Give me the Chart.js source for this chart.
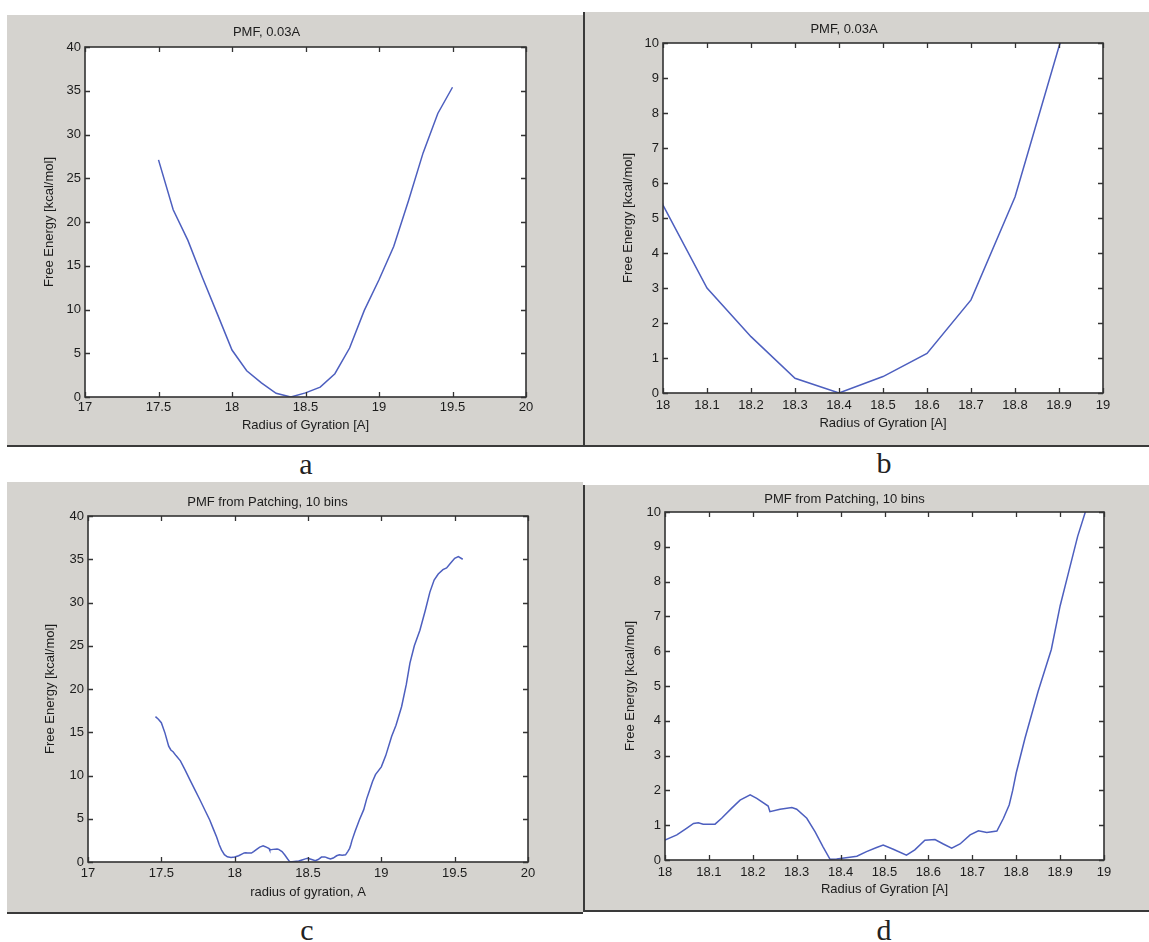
<!DOCTYPE html>
<html>
<head>
<meta charset="utf-8">
<script src="https://cdn.jsdelivr.net/npm/chart.js@4.4.0/dist/chart.umd.min.js"></script>
<style>
  body { margin: 0; background: #fff; width: 1149px; height: 942px; position: relative; overflow: hidden; }
  .panel { position: absolute; background: #d5d3cf; }
  .panel canvas { display: block; }
  .lbl { position: absolute; width: 100px; text-align: center; font-family: "Liberation Serif", "DejaVu Serif", serif;
         font-size: 30px; line-height: 30px; color: #222; }
</style>
</head>
<body>

<div class="panel" style="left:7px;top:15px;width:576px;height:430px;border-bottom:2px solid #3a3a3a">
  <canvas id="chartA" width="576" height="430"></canvas>
</div>
<div class="panel" style="left:583px;top:12px;width:566px;height:433px;border-left:2px solid #3a3a3a;border-bottom:2px solid #3a3a3a">
  <canvas id="chartB" width="564" height="433"></canvas>
</div>
<div class="panel" style="left:7px;top:482px;width:576px;height:430px;border-bottom:2px solid #3a3a3a">
  <canvas id="chartC" width="576" height="430"></canvas>
</div>
<div class="panel" style="left:583px;top:485px;width:566px;height:425px;border-left:2px solid #3a3a3a;border-bottom:2px solid #3a3a3a">
  <canvas id="chartD" width="564" height="425"></canvas>
</div>

<div class="lbl" style="left:256px;top:449px">a</div>
<div class="lbl" style="left:834px;top:448px">b</div>
<div class="lbl" style="left:257px;top:915px">c</div>
<div class="lbl" style="left:834px;top:915px">d</div>

<script>
// PMF, 0.03A  (panels a and b)
const rgA = [17.5, 17.6, 17.7, 17.8, 17.9, 18.0, 18.1, 18.2, 18.3, 18.4, 18.5,
             18.6, 18.7, 18.8, 18.9, 19.0, 19.1, 19.2, 19.3, 19.4, 19.5];
const feA = [27.1, 21.4, 17.9, 13.6, 9.5, 5.37, 3.0, 1.61, 0.42, 0.0, 0.47,
             1.13, 2.66, 5.6, 9.9, 13.4, 17.2, 22.4, 27.9, 32.4, 35.4];

// PMF from Patching, 10 bins  (panels c and d)
const rgP = [17.46, 17.48, 17.50, 17.525, 17.55, 17.565, 17.58, 17.60, 17.63, 17.66,
             17.695, 17.73, 17.763, 17.80, 17.83, 17.855, 17.877, 17.895, 17.91, 17.93,
             17.95, 17.975, 18.0, 18.027, 18.049, 18.065, 18.076, 18.087, 18.114, 18.129,
             18.152, 18.171, 18.194, 18.209, 18.235, 18.239, 18.262, 18.289, 18.30, 18.323,
             18.342, 18.36, 18.376, 18.391, 18.421, 18.437, 18.459, 18.482, 18.497, 18.52,
             18.55, 18.569, 18.592, 18.615, 18.634, 18.653, 18.672, 18.695, 18.714, 18.733,
             18.756, 18.771, 18.784, 18.792, 18.80, 18.82, 18.85, 18.88, 18.90, 18.92,
             18.94, 18.96, 19.0, 19.03, 19.07, 19.1, 19.138, 19.17, 19.195, 19.225,
             19.263, 19.30, 19.331, 19.36, 19.388, 19.42, 19.445, 19.47, 19.50, 19.525, 19.555];
const feP = [16.8, 16.5, 16.1, 14.9, 13.4, 12.95, 12.75, 12.3, 11.7, 10.7,
             9.5, 8.3, 7.2, 5.9, 4.86, 3.8, 2.9, 2.0, 1.4, 0.85,
             0.6, 0.52, 0.575, 0.72, 0.91, 1.05, 1.07, 1.03, 1.03, 1.2,
             1.49, 1.72, 1.87, 1.77, 1.55, 1.39, 1.46, 1.51, 1.46, 1.2,
             0.81, 0.38, 0.02, 0.03, 0.08, 0.11, 0.24, 0.36, 0.43, 0.31,
             0.14, 0.29, 0.57, 0.59, 0.46, 0.34, 0.46, 0.72, 0.84, 0.79,
             0.83, 1.2, 1.58, 2.0, 2.5, 3.5, 4.85, 6.05, 7.3, 8.3,
             9.3, 10.1, 11.0, 12.3, 14.5, 15.8, 17.95, 20.5, 23.0, 25.0,
             26.8, 29.1, 31.2, 32.6, 33.3, 33.8, 34.0, 34.5, 35.1, 35.3, 35.0];

const FONT = '"Liberation Sans", Arial, sans-serif';
const INK = '#1c1c1c';
const LINE = '#4d5fbf';

const fmt = v => String(Math.round(v * 10) / 10);

// white axes box with inward ticks on all four sides, matlab style
const matlabBox = {
  id: 'matlabBox',
  beforeDatasetsDraw(chart) {
    const { ctx, chartArea: a } = chart;
    ctx.save();
    ctx.fillStyle = '#fff';
    ctx.fillRect(a.left, a.top, a.right - a.left, a.bottom - a.top);
    ctx.restore();
  },
  afterDatasetsDraw(chart) {
    const { ctx, chartArea: a, scales: { x, y } } = chart;
    ctx.save();
    ctx.strokeStyle = '#333';
    ctx.lineWidth = 1.3;
    ctx.beginPath();
    x.ticks.forEach(t => {
      const px = Math.round(x.getPixelForValue(t.value)) + 0.5;
      ctx.moveTo(px, a.bottom); ctx.lineTo(px, a.bottom - 5);
      ctx.moveTo(px, a.top); ctx.lineTo(px, a.top + 5);
    });
    y.ticks.forEach(t => {
      const py = Math.round(y.getPixelForValue(t.value)) + 0.5;
      ctx.moveTo(a.left, py); ctx.lineTo(a.left + 5, py);
      ctx.moveTo(a.right, py); ctx.lineTo(a.right - 5, py);
    });
    ctx.stroke();
    ctx.lineWidth = 1.6;
    ctx.strokeRect(a.left, a.top, a.right - a.left, a.bottom - a.top);
    ctx.restore();
  }
};

function pmfChart(id, xs, ys, p) {
  return new Chart(document.getElementById(id), {
    type: 'line',
    data: {
      datasets: [{
        data: xs.map((x, i) => ({ x: x, y: ys[i] })),
        borderColor: LINE,
        borderWidth: 1.5,
        pointRadius: 0,
        tension: 0
      }]
    },
    options: {
      responsive: false,
      animation: false,
      layout: { padding: { left: 0, right: p.right, top: 0, bottom: 0 } },
      plugins: {
        legend: { display: false },
        tooltip: { enabled: false },
        title: {
          display: true, text: p.title, color: INK,
          font: { family: FONT, size: 13, weight: 'normal' },
          padding: { top: p.titleTop, bottom: p.titleBottom }
        }
      },
      scales: {
        x: {
          type: 'linear', min: p.xMin, max: p.xMax,
          grid: { display: false, drawTicks: false, tickLength: 0 },
          border: { display: false },
          ticks: { stepSize: p.xStep, padding: p.xPad, color: INK, maxRotation: 0, autoSkip: false,
                   font: { family: FONT, size: 13 }, callback: fmt },
          title: { display: true, text: p.xTitle, color: INK, font: { family: FONT, size: 13 },
                   padding: { top: 0, bottom: p.xTitleBottom } },
          afterFit: s => { s.height = p.xHeight; }
        },
        y: {
          min: 0, max: p.yMax,
          grid: { display: false, drawTicks: false, tickLength: 0 },
          border: { display: false },
          ticks: { stepSize: p.yStep, padding: 4, color: INK, autoSkip: false,
                   font: { family: FONT, size: 13 }, callback: fmt },
          title: { display: true, text: 'Free Energy [kcal/mol]', color: INK, font: { family: FONT, size: 13 },
                   padding: { top: p.yTitleTop, bottom: 0 } },
          afterFit: s => { s.width = p.yWidth; }
        }
      }
    },
    plugins: [matlabBox]
  });
}

pmfChart('chartA', rgA, feA, {
  title: 'PMF, 0.03A', xTitle: 'Radius of Gyration [A]',
  xMin: 17, xMax: 20, xStep: 0.5, yMax: 40, yStep: 5,
  right: 57, yWidth: 78, xHeight: 48, titleTop: 10, titleBottom: 6.4,
  yTitleTop: 35, xTitleBottom: 12, xPad: 3
});

pmfChart('chartB', rgA, feA, {
  title: 'PMF, 0.03A', xTitle: 'Radius of Gyration [A]',
  xMin: 18, xMax: 19, xStep: 0.1, yMax: 10, yStep: 1,
  right: 46, yWidth: 78, xHeight: 52, titleTop: 10, titleBottom: 5.4,
  yTitleTop: 36, xTitleBottom: 14, xPad: 5
});

pmfChart('chartC', rgP, feP, {
  title: 'PMF from Patching, 10 bins', xTitle: 'radius of gyration, A',
  xMin: 17, xMax: 20, xStep: 0.5, yMax: 40, yStep: 5,
  right: 55, yWidth: 81, xHeight: 50, titleTop: 13, titleBottom: 5.4,
  yTitleTop: 36, xTitleBottom: 12, xPad: 4
});

pmfChart('chartD', rgP, feP, {
  title: 'PMF from Patching, 10 bins', xTitle: 'Radius of Gyration [A]',
  xMin: 18, xMax: 19, xStep: 0.1, yMax: 10, yStep: 1,
  right: 45, yWidth: 80, xHeight: 50, titleTop: 7, titleBottom: 4.4,
  yTitleTop: 38, xTitleBottom: 13, xPad: 5
});
</script>
</body>
</html>
